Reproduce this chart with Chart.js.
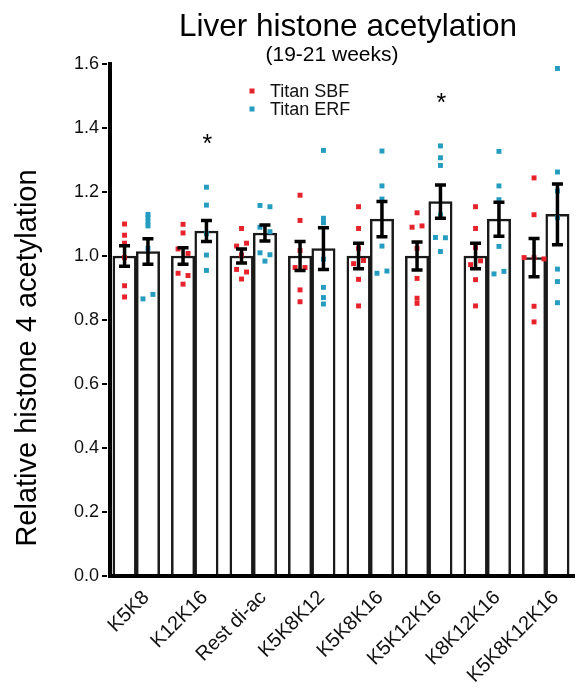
<!DOCTYPE html>
<html>
<head>
<meta charset="utf-8">
<script src="https://cdn.jsdelivr.net/npm/chart.js@4/dist/chart.umd.min.js"></script>
<style>
  html, body { margin: 0; padding: 0; background: #fff; }
  canvas { display: block; }
</style>
</head>
<body>
<canvas id="c" width="579" height="698"></canvas>
<script>
// ---- data ----
const categories = ['K5K8', 'K12K16', 'Rest di-ac', 'K5K8K12', 'K5K8K16', 'K5K12K16', 'K8K12K16', 'K5K8K12K16'];
const yTicks = [0.0, 0.2, 0.4, 0.6, 0.8, 1.0, 1.2, 1.4, 1.6];

const sbfMean = [1.0, 1.0, 1.0, 1.0, 1.0, 1.0, 1.0, 0.995];
const sbfSem  = [0.032, 0.026, 0.022, 0.045, 0.040, 0.044, 0.040, 0.060];
const erfMean = [1.014, 1.078, 1.072, 1.023, 1.115, 1.170, 1.115, 1.130];
const erfSem  = [0.040, 0.033, 0.025, 0.065, 0.055, 0.052, 0.053, 0.095];

const sbfPoints = [
  [1.10, 1.065, 1.04, 0.995, 0.907, 0.872],
  [1.099, 1.072, 1.022, 1.008, 0.946, 0.939, 0.912],
  [1.086, 1.04, 1.031, 1.003, 0.958, 0.95, 0.928],
  [1.19, 1.111, 1.017, 0.964, 0.964, 0.894, 0.857],
  [1.154, 1.086, 1.024, 0.986, 0.976, 0.927, 0.844],
  [1.135, 1.094, 1.09, 1.024, 0.93, 0.868, 0.852],
  [1.154, 1.086, 1.026, 0.985, 0.973, 0.926, 0.844],
  [1.244, 1.129, 0.995, 0.995, 0.991, 0.843, 0.794]
];
const sbfJitter = [
  [0, 0, 0, 0, 0, 0],
  [0, 0, -1, 1, -1, 1, 0],
  [0, 1, -1, 0, -1, 1, 0],
  [0, 0, 0, -1, 1, 0, 0],
  [0, 0, 0, 1, -1, 0, 0],
  [0, 1, -1, 0, 0, 0, 0],
  [0, 0, 0, 1, -1, 0, 0],
  [0, 0, -2, 0, 2, 0, 0]
];
const erfPoints = [
  [1.13, 1.12, 1.106, 1.094, 1.024, 0.88, 0.866],
  [1.215, 1.159, 1.07, 1.003, 0.955],
  [1.158, 1.154, 1.09, 1.076, 1.01, 1.004, 0.984],
  [1.33, 1.118, 1.104, 0.99, 0.902, 0.87, 0.85],
  [1.328, 1.219, 1.178, 1.031, 0.953, 0.946],
  [1.344, 1.307, 1.283, 1.128, 1.058, 1.057, 1.014],
  [1.327, 1.219, 1.176, 1.03, 0.952, 0.944],
  [1.586, 1.2625, 1.203, 1.12, 0.959, 0.92, 0.854]
];
const erfJitter = [
  [0, 0, 0, 0, 0, 1, -1],
  [0, 0, 0, 0, 0],
  [-1, 1, -1, 1, -1, 1, 0],
  [0, 0, 0, 0, 0, 0, 0],
  [0, 0, 0, 0, 1, -1],
  [0, 0, 0, 0, -1, 1, 0],
  [0, 0, 0, 0, 1, -1],
  [0, 0, 0, 0, 0, 0, 0]
];
// significance markers: category index (ERF bar), value height
const sigCategory = [1, 5];
const sigValue = [1.362, 1.49];

// ---- styling ----
const RED = '#e8222b';
const TEAL = '#259cc0';
const FONT = '"Liberation Sans", Arial, Helvetica, sans-serif';
const JIT = 0.085;           // one dot width in category units
const SERIES_SHIFT = 0.2;    // bar centre offset in category units

function bars(means, shift) {
  return means.map((v, i) => ({ x: i + shift, y: v }));
}
function pts(values, jitter, shift) {
  const out = [];
  values.forEach((arr, i) => arr.forEach((v, k) => out.push({ x: i + shift + jitter[i][k] * JIT, y: v })));
  return out;
}

const overlay = {
  id: 'overlay',
  afterDatasetsDraw(chart) {
    const { ctx, chartArea: a, scales: { y } } = chart;
    ctx.save();
    // error bars
    [[0, sbfMean, sbfSem], [1, erfMean, erfSem]].forEach(([di, m, s]) => {
      chart.getDatasetMeta(di).data.forEach((bar, i) => {
        const x = bar.x;
        const yt = y.getPixelForValue(m[i] + s[i]);
        const yb = y.getPixelForValue(m[i] - s[i]);
        ctx.strokeStyle = '#000';
        ctx.lineWidth = 3.5;
        ctx.lineCap = 'butt';
        ctx.beginPath();
        ctx.moveTo(x, yt); ctx.lineTo(x, yb);
        ctx.moveTo(x - 5.5, yt); ctx.lineTo(x + 5.5, yt);
        ctx.moveTo(x - 5.5, yb); ctx.lineTo(x + 5.5, yb);
        ctx.stroke();
      });
    });
    // axis lines
    ctx.fillStyle = '#000';
    ctx.fillRect(a.left + 1, a.top - 2, 4, a.bottom - a.top + 4);
    ctx.fillRect(a.left + 1, a.bottom - 2, a.right - a.left - 1, 4);
    // significance asterisks
    ctx.font = '25px ' + FONT;
    ctx.textAlign = 'center';
    ctx.textBaseline = 'alphabetic';
    sigCategory.forEach((c, k) => {
      const bar = chart.getDatasetMeta(1).data[c];
      ctx.fillText('*', bar.x + 1, y.getPixelForValue(sigValue[k]) + 12);
    });
    ctx.restore();
  },
  afterDraw(chart) {
    const { ctx } = chart;
    ctx.save();
    ctx.fillStyle = '#000';
    ctx.textAlign = 'center';
    ctx.textBaseline = 'alphabetic';
    ctx.font = '31.5px ' + FONT;
    ctx.fillText('Liver histone acetylation', 348, 35.5);
    ctx.font = '21px ' + FONT;
    ctx.fillText('(19-21 weeks)', 332, 61);
    // legend
    ctx.fillStyle = RED;
    ctx.fillRect(249.5, 88.5, 5, 5);
    ctx.fillStyle = TEAL;
    ctx.fillRect(249.5, 106.5, 5, 5);
    ctx.fillStyle = '#111';
    ctx.textAlign = 'left';
    ctx.font = '18px ' + FONT;
    ctx.fillText('Titan SBF', 270, 97);
    ctx.fillText('Titan ERF', 270, 115);
    // y axis title
    ctx.translate(35.5, 358);
    ctx.rotate(-Math.PI / 2);
    ctx.textAlign = 'center';
    ctx.fillStyle = '#000';
    ctx.font = '29px ' + FONT;
    ctx.fillText('Relative histone 4 acetylation', 0, 0);
    ctx.restore();
  }
};

const barStyle = { type: 'bar', backgroundColor: '#ffffff', borderColor: '#1a1a1a', borderWidth: 2.5, grouped: false, barPercentage: 1.0, categoryPercentage: 1.0, xAxisID: 'xs', yAxisID: 'y', order: 3 };
const dotStyle = { type: 'scatter', xAxisID: 'xs', yAxisID: 'y', pointStyle: 'rect', pointRadius: 3.5, pointBorderWidth: 0, order: 1 };

new Chart(document.getElementById('c'), {
  type: 'bar',
  data: {
    labels: categories,
    datasets: [
      Object.assign({ label: 'Titan SBF mean', data: bars(sbfMean, -SERIES_SHIFT) }, barStyle),
      Object.assign({ label: 'Titan ERF mean', data: bars(erfMean, SERIES_SHIFT) }, barStyle),
      Object.assign({ label: 'Titan SBF', data: pts(sbfPoints, sbfJitter, -SERIES_SHIFT), pointBackgroundColor: RED, backgroundColor: RED, borderColor: RED }, dotStyle),
      Object.assign({ label: 'Titan ERF', data: pts(erfPoints, erfJitter, SERIES_SHIFT), pointBackgroundColor: TEAL, backgroundColor: TEAL, borderColor: TEAL }, dotStyle)
    ]
  },
  options: {
    responsive: false,
    animation: false,
    layout: { padding: { top: 64, left: 0, right: 0, bottom: 0 } },
    plugins: { legend: { display: false }, tooltip: { enabled: false }, title: { display: false } },
    scales: {
      x: {
        type: 'category',
        offset: true,
        grid: { display: false, drawTicks: false },
        border: { display: false },
        ticks: { autoSkip: false, maxRotation: 45, minRotation: 45, labelOffset: 10, padding: 10, color: '#111', font: { family: FONT, size: 20 } },
        afterFit: s => { s.height = 122; }
      },
      xs: { type: 'linear', min: -0.5, max: 7.5, offset: false, grid: { offset: false }, display: false, ticks: { stepSize: 1 } },
      y: {
        type: 'linear',
        min: 0, max: 1.6,
        afterBuildTicks: s => { s.ticks = yTicks.map(v => ({ value: v })); },
        grid: { drawOnChartArea: false, drawTicks: true, tickLength: 5, color: '#000', lineWidth: 2 },
        border: { display: false },
        ticks: { padding: 3, color: '#111', font: { family: FONT, size: 18 }, callback: v => Number(v).toFixed(1) },
        afterFit: s => { s.width = 107; }
      }
    }
  },
  plugins: [overlay]
});
</script>
</body>
</html>
